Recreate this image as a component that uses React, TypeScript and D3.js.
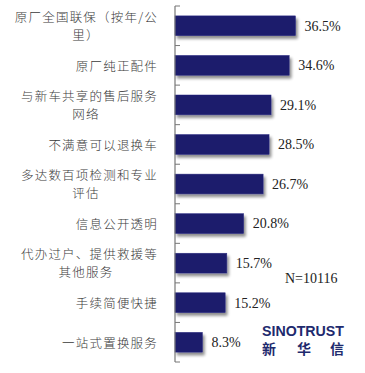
import React from "react";
import * as d3 from "d3";

const categories: string[][] = [
  ["原厂全国联保（按年/公", "里）"],
  ["原厂纯正配件"],
  ["与新车共享的售后服务", "网络"],
  ["不满意可以退换车"],
  ["多达数百项检测和专业", "评估"],
  ["信息公开透明"],
  ["代办过户、提供救援等", "其他服务"],
  ["手续简便快捷"],
  ["一站式置换服务"],
];
const values: number[] = [36.5, 34.6, 29.1, 28.5, 26.7, 20.8, 15.7, 15.2, 8.3];
const valueLabels: string[] = ["36.5%", "34.6%", "29.1%", "28.5%", "26.7%", "20.8%", "15.7%", "15.2%", "8.3%"];
const sampleNote = "N=10116";
const brandEn = "SINOTRUST";
const brandCn = ["新", "华", "信"];

const W = 365;
const H = 373;
const axisX = 175;

export default function App() {
  const idx = categories.map((_, i) => String(i));
  const y = d3.scaleBand<string>().domain(idx).range([6, 362]).paddingInner(0.5).paddingOuter(0.25);
  const yb = d3.scaleBand<string>().domain(idx).range([6, 362]);
  const x = d3.scaleLinear().domain([0, 40]).range([axisX, axisX + 132]);
  const navy = "#1c1c6c";
  const labelRight = 158;

  return (
    <svg width={W} height={H} style={{ position: "absolute", left: 0, top: 0, background: "#fff" }}>
      <defs>
        <filter id="sh" x="-10%" y="-30%" width="130%" height="190%">
          <feGaussianBlur in="SourceAlpha" stdDeviation="1.6" />
          <feOffset dx="2" dy="3" result="ob" />
          <feComponentTransfer>
            <feFuncA type="linear" slope="0.45" />
          </feComponentTransfer>
          <feMerge>
            <feMergeNode />
            <feMergeNode in="SourceGraphic" />
          </feMerge>
        </filter>
      </defs>
      <rect x={0} y={0} width={W} height={H} fill="#fff" />
      {values.map((v, i) => {
        const by = y(String(i))!;
        const bh = y.bandwidth();
        const cy = by + bh / 2;
        return (
          <g key={i}>
            <rect x={axisX} y={by} width={x(v) - axisX} height={bh} fill={navy} stroke="#2a2a80" strokeWidth={0.5} filter="url(#sh)" />
            <text
              x={x(v) + 9}
              y={cy}
              dy="0.35em"
              fontFamily="'Liberation Serif', 'Times New Roman', serif"
              fontSize={14}
              fill="#222"
            >
              {valueLabels[i]}
            </text>
          </g>
        );
      })}
      {categories.map((lines, i) => {
        const cy = yb(String(i))! + yb.bandwidth() / 2 + 1;
        const style = {
          fontFamily: "'Noto Sans CJK SC', sans-serif",
          fontSize: 12.5,
          fontWeight: 300,
          letterSpacing: "1.2px",
          fill: "#3a3a3a",
        } as React.CSSProperties;
        if (lines.length === 1) {
          return (
            <text key={i} x={labelRight} y={cy} dy="0.35em" textAnchor="end" style={style}>
              {lines[0]}
            </text>
          );
        }
        return (
          <g key={i}>
            <text x={labelRight} y={cy - 9} dy="0.35em" textAnchor="end" style={style}>
              {lines[0]}
            </text>
            <text x={86} y={cy + 9} dy="0.35em" textAnchor="middle" style={style}>
              {lines[1]}
            </text>
          </g>
        );
      })}
      <line x1={axisX} x2={axisX} y1={6} y2={362} stroke="#777" strokeWidth={1.2} />
      {d3.range(categories.length + 1).map((k) => {
        const ty = 6 + k * yb.step();
        return <line key={k} x1={axisX} x2={axisX + 5} y1={ty} y2={ty} stroke="#777" strokeWidth={1} />;
      })}
      <text x={285} y={278} dy="0.35em" fontFamily="'Liberation Serif', 'Times New Roman', serif" fontSize={14} fill="#222">
        {sampleNote}
      </text>
      <text
        x={262}
        y={336}
        fontFamily="'Liberation Sans', Arial, sans-serif"
        fontWeight="bold"
        fontSize={15.5}
        fill="#1e2a6e"
        textLength={82}
        lengthAdjust="spacingAndGlyphs"
      >
        {brandEn}
      </text>
      {brandCn.map((c, i) => (
        <text
          key={i}
          x={[262, 297, 330][i]}
          y={354}
          fontFamily="'Noto Sans CJK SC', sans-serif"
          fontWeight="bold"
          fontSize={14}
          fill="#1e2a6e"
        >
          {c}
        </text>
      ))}
    </svg>
  );
}
